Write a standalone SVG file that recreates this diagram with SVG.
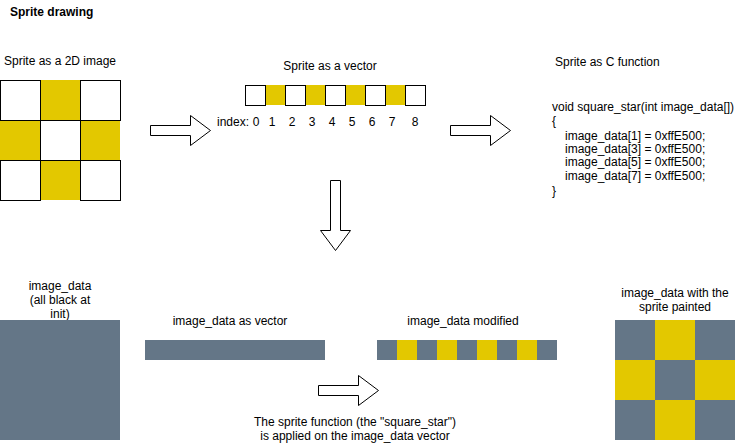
<svg xmlns="http://www.w3.org/2000/svg" width="741" height="444" viewBox="0 0 741 444">
<style>
text{font-family:"Liberation Sans",Arial,sans-serif;font-size:12px;fill:#000}
.m{text-anchor:middle}
.y{fill:#E3C800}
.g{fill:#647687}
.w{fill:#fff;stroke:#000;stroke-width:1}
.arr{fill:#fff;stroke:#000;stroke-width:1}
</style>
<rect width="741" height="444" fill="#fff"/>
<text x="10" y="16" style="font-weight:bold">Sprite drawing</text>

<g id="sprite2d">
<text class="m" x="60" y="65">Sprite as a 2D image</text>
<rect class="y" x="40" y="80" width="40" height="40"/>
<rect class="y" x="0" y="120" width="40" height="40"/>
<rect class="y" x="80" y="120" width="40" height="40"/>
<rect class="y" x="40" y="160" width="40" height="40"/>
<rect class="w" x="0.5" y="80.5" width="40" height="40"/>
<rect class="w" x="80.5" y="80.5" width="40" height="40"/>
<rect class="w" x="40.5" y="120.5" width="40" height="40"/>
<rect class="w" x="0.5" y="160.5" width="40" height="40"/>
<rect class="w" x="80.5" y="160.5" width="40" height="40"/>
</g>

<g id="spriteVector">
<text class="m" x="330" y="70">Sprite as a vector</text>
<rect class="y" x="265" y="85" width="20" height="20"/>
<rect class="y" x="305" y="85" width="20" height="20"/>
<rect class="y" x="345" y="85" width="20" height="20"/>
<rect class="y" x="385" y="85" width="20" height="20"/>
<rect class="w" x="245.5" y="85.5" width="20" height="20"/>
<rect class="w" x="285.5" y="85.5" width="20" height="20"/>
<rect class="w" x="325.5" y="85.5" width="20" height="20"/>
<rect class="w" x="365.5" y="85.5" width="20" height="20"/>
<rect class="w" x="405.5" y="85.5" width="20" height="20"/>
<text x="217" y="126">index:</text>
<text class="m" x="256" y="126">0</text>
<text class="m" x="272" y="126">1</text>
<text class="m" x="292" y="126">2</text>
<text class="m" x="312" y="126">3</text>
<text class="m" x="332" y="126">4</text>
<text class="m" x="352" y="126">5</text>
<text class="m" x="372" y="126">6</text>
<text class="m" x="392" y="126">7</text>
<text class="m" x="415" y="126">8</text>
</g>

<g id="spriteCFunction">
<text x="555" y="66">Sprite as C function</text>
<text x="552" y="111">void square_star(int image_data[])</text>
<text x="552" y="125">{</text>
<text x="565" y="140">image_data[1] = 0xffE500;</text>
<text x="565" y="153">image_data[3] = 0xffE500;</text>
<text x="565" y="166">image_data[5] = 0xffE500;</text>
<text x="565" y="180">image_data[7] = 0xffE500;</text>
<text x="552" y="195">}</text>
</g>

<g id="imageDataInit">
<text class="m" x="60" y="290">image_data</text>
<text class="m" x="60" y="304">(all black at</text>
<text class="m" x="60" y="318">init)</text>
<rect class="g" x="0" y="320" width="120" height="120"/>
</g>

<g id="imageDataVector">
<text class="m" x="230" y="325">image_data as vector</text>
<rect class="g" x="145" y="340" width="180" height="20"/>
</g>

<g id="imageDataModified">
<text class="m" x="463" y="325">image_data modified</text>
<rect class="g" x="377" y="340" width="180" height="20"/>
<rect class="y" x="397" y="340" width="20" height="20"/>
<rect class="y" x="437" y="340" width="20" height="20"/>
<rect class="y" x="477" y="340" width="20" height="20"/>
<rect class="y" x="517" y="340" width="20" height="20"/>
</g>

<g id="imageDataPainted">
<text class="m" x="675" y="297">image_data with the</text>
<text class="m" x="675" y="311">sprite painted</text>
<rect class="g" x="615" y="320" width="120" height="120"/>
<rect class="y" x="655" y="320" width="40" height="40"/>
<rect class="y" x="615" y="360" width="40" height="40"/>
<rect class="y" x="695" y="360" width="40" height="40"/>
<rect class="y" x="655" y="400" width="40" height="40"/>
</g>

<g id="caption">
<text class="m" x="355" y="426">The sprite function (the "square_star")</text>
<text class="m" x="355" y="440">is applied on the image_data vector</text>
</g>

<g id="connectors">
<path class="arr" d="M150.5,125.5 H190.5 V115.5 L210.5,130.5 L190.5,145.5 V135.5 H150.5 Z"/>
<path class="arr" d="M450.5,125.5 H490.5 V115.5 L510.5,130.5 L490.5,145.5 V135.5 H450.5 Z"/>
<path class="arr" d="M330.5,180.5 V230.5 H320.5 L335.5,250.5 L350.5,230.5 H340.5 V180.5 Z"/>
<path class="arr" d="M318.5,385.5 H358.5 V375.5 L378.5,390.5 L358.5,405.5 V395.5 H318.5 Z"/>
</g>
</svg>
